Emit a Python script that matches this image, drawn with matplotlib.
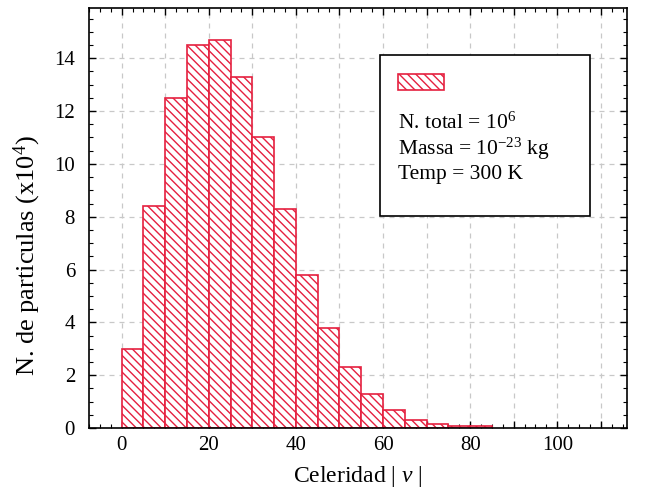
import matplotlib
matplotlib.use('Agg')
import matplotlib.pyplot as plt
import numpy as np
from matplotlib.patches import Patch
from matplotlib.ticker import MultipleLocator, FuncFormatter

# histogram of speeds, bins of width 5 starting at 0 (counts in units of 1e4)
BIN_EDGES = [0, 5, 10, 15, 20, 25, 30, 35, 40, 45, 50, 55, 60, 65, 70, 75, 80, 85]
COUNTS = [3.0, 8.4, 12.5, 14.5, 14.7, 13.3, 11.0, 8.3, 5.8, 3.8, 2.3, 1.3,
          0.7, 0.3, 0.15, 0.06, 0.06]
INFO_LINES = ['N. total = $10^{6}$', 'Massa = $10^{-23}$ kg', 'Temp = 300 K']
RED = '#e5203f'

plt.rcParams['font.family'] = ['Liberation Serif', 'DejaVu Serif']
plt.rcParams['mathtext.fontset'] = 'custom'
plt.rcParams['mathtext.rm'] = 'Liberation Serif'
plt.rcParams['mathtext.it'] = 'Liberation Serif:italic'
plt.rcParams['hatch.linewidth'] = 1.0

fig = plt.figure(figsize=(6.45, 4.9), dpi=100)
ax = fig.add_axes([0.138, 0.1265, 0.834, 0.857])

edges = np.array(BIN_EDGES, float)
ax.bar(edges[:-1], COUNTS, width=np.diff(edges), align='edge',
       facecolor='white', edgecolor=RED, linewidth=1.2, hatch='\\\\\\\\', zorder=2)

ax.set_xlim(-7.5, 116)
ax.set_ylim(0, 15.9)
ax.xaxis.set_major_locator(MultipleLocator(10))
ax.xaxis.set_minor_locator(MultipleLocator(2.5))
ax.xaxis.set_major_formatter(FuncFormatter(lambda v, p: f'{v:.0f}' if round(v) % 20 == 0 else ''))
ax.yaxis.set_major_locator(MultipleLocator(2))
ax.yaxis.set_minor_locator(MultipleLocator(0.5))
ax.tick_params(which='both', direction='in', top=True, right=True, labelsize=15)
ax.tick_params(which='major', length=5, width=1)
ax.tick_params(which='minor', length=3, width=0.8)
ax.tick_params(axis='y', which='major', pad=10)
ax.tick_params(axis='x', which='major', pad=6)
ax.grid(True, which='major', ls=(0, (4, 4)), color='#c8c8c8', lw=0.9, zorder=0)
for sp in ax.spines.values():
    sp.set_linewidth(1.2)

ax.set_xlabel('Celeridad | $\\mathit{v}$ |', fontsize=17, labelpad=6)
ax.set_ylabel('N. de particulas (x10$^{4}$)', fontsize=19)
ax.yaxis.set_label_coords(-0.085, 0.41)

# info box with hatched sample
box = plt.Rectangle((0.541, 0.505), 0.39, 0.383, transform=ax.transAxes,
                    facecolor='white', edgecolor='black', lw=1.2, zorder=5)
ax.add_patch(box)
ax.text(0.574, 0.752, '\n'.join(INFO_LINES), transform=ax.transAxes,
        fontsize=15.5, va='top', ha='left', linespacing=1.15, zorder=6)
leg = ax.legend(handles=[Patch(facecolor='white', edgecolor=RED, hatch='\\\\\\\\', lw=1.2)],
                labels=[''], loc='upper left', bbox_to_anchor=(0.574, 0.842),
                frameon=False, fontsize=13, handlelength=2.55, handleheight=0.95,
                borderaxespad=0, borderpad=0)
leg.set_zorder(7)

fig.savefig('out.png', dpi=100)
